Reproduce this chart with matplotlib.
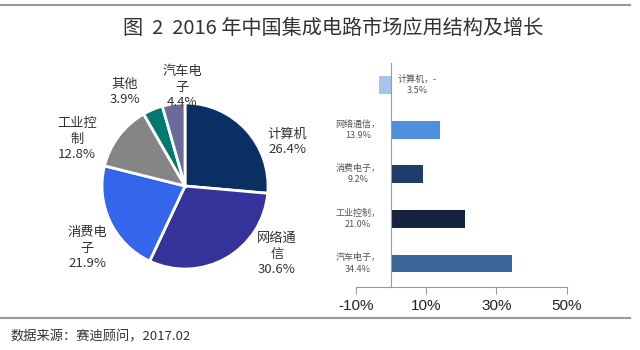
import matplotlib
matplotlib.use("Agg")
import matplotlib.pyplot as plt
from matplotlib.lines import Line2D

plt.rcParams['font.family'] = ['Noto Sans CJK SC', 'DejaVu Sans']

# ---- data ----
pie_labels = ["计算机", "网络通信", "消费电子", "工业控制", "其他", "汽车电子"]
pie_values = [26.4, 30.6, 21.9, 12.8, 3.9, 4.4]
pie_colors = ["#0c2f63", "#33339a", "#3466ec", "#858585", "#007a70", "#6b6b9b"]
pie_text = ["计算机\n26.4%", "网络通\n信\n30.6%", "消费电\n子\n21.9%",
            "工业控\n制\n12.8%", "其他\n3.9%", "汽车电\n子\n4.4%"]

bar_cats = ["计算机", "网络通信", "消费电子", "工业控制", "汽车电子"]
bar_values = [-3.5, 13.9, 9.2, 21.0, 34.4]
bar_colors = ["#a8c4ea", "#4f8fdc", "#1d3b6b", "#14243e", "#3a6699"]
bar_text = ["计算机，-\n3.5%", "网络通信，\n13.9%", "消费电子，\n9.2%",
            "工业控制，\n21.0%", "汽车电子，\n34.4%"]
x_ticks = [-10, 10, 30, 50]
x_ticklabels = ["-10%", "10%", "30%", "50%"]

W, H = 640, 350
fig = plt.figure(figsize=(W / 100, H / 100), dpi=100)

def fx(px):
    return px / W

def fy(py):
    return (H - py) / H

# frame lines
fig.add_artist(Line2D([0, fx(630)], [fy(5), fy(5)], color="#9a9a9a", lw=1.5))
fig.add_artist(Line2D([0, fx(630)], [fy(318), fy(318)], color="#9a9a9a", lw=1.5))

fig.text(fx(333), fy(28), "图  2  2016 年中国集成电路市场应用结构及增长",
         ha="center", va="center", fontsize=14.5, color="#333333")
fig.text(fx(10), fy(337), "数据来源：赛迪顾问，2017.02",
         ha="left", va="center", fontsize=9.5, color="#333333")

# ---- pie ----
cx, cy = 185, 186
ax = fig.add_axes([fx(cx - 100), fy(cy + 100), 200 / W, 200 / H])
ax.pie(pie_values, colors=pie_colors, startangle=90, counterclock=False,
       radius=83, center=(0, 0), frame=True,
       wedgeprops=dict(edgecolor="white", linewidth=2))
ax.set_aspect("auto")
ax.set_xlim(-100, 100)
ax.set_ylim(-100, 100)
ax.axis("off")

label_pos = [(287, 142), (277, 254), (87, 248), (77, 139), (125, 92), (182, 87)]
for t, (px, py) in zip(pie_text, label_pos):
    ax.text(px - cx, cy - py, t, ha="center", va="center", fontsize=9.5,
            color="#333333", linespacing=1.25)

# ---- bars ----
bx0, bx1 = 355.7, 566.7
by0, by1 = 63, 286.7
bax = fig.add_axes([fx(bx0), fy(by1), (bx1 - bx0) / W, (by1 - by0) / H])
ypos = list(range(len(bar_cats)))
bax.barh(ypos, bar_values, height=0.4, color=bar_colors)
bax.set_xlim(-10, 50)
bax.set_ylim(4.52, -0.5)
bax.set_xticks(x_ticks)
bax.set_xticklabels(x_ticklabels, family=["Liberation Sans", "DejaVu Sans"],
                    fontsize=11, color="#222222")
bax.set_yticks([])
for s in ["top", "right"]:
    bax.spines[s].set_visible(False)
bax.spines["left"].set_position(("data", 0))
bax.spines["left"].set_color("#9a9a9a")
bax.spines["bottom"].set_color("#9a9a9a")
bax.tick_params(axis="x", direction="out", length=5, color="#9a9a9a", pad=4)

for i, (v, t) in enumerate(zip(bar_values, bar_text)):
    if v < 0:
        bax.text(2.0, i, t, ha="left", va="center", fontsize=6.5,
                 color="#555555", multialignment="center", linespacing=1.3)
    else:
        bax.text(-3.0, i, t, ha="right", va="center", fontsize=6.5,
                 color="#555555", multialignment="center", linespacing=1.3)

fig.savefig("out.png", dpi=100)
